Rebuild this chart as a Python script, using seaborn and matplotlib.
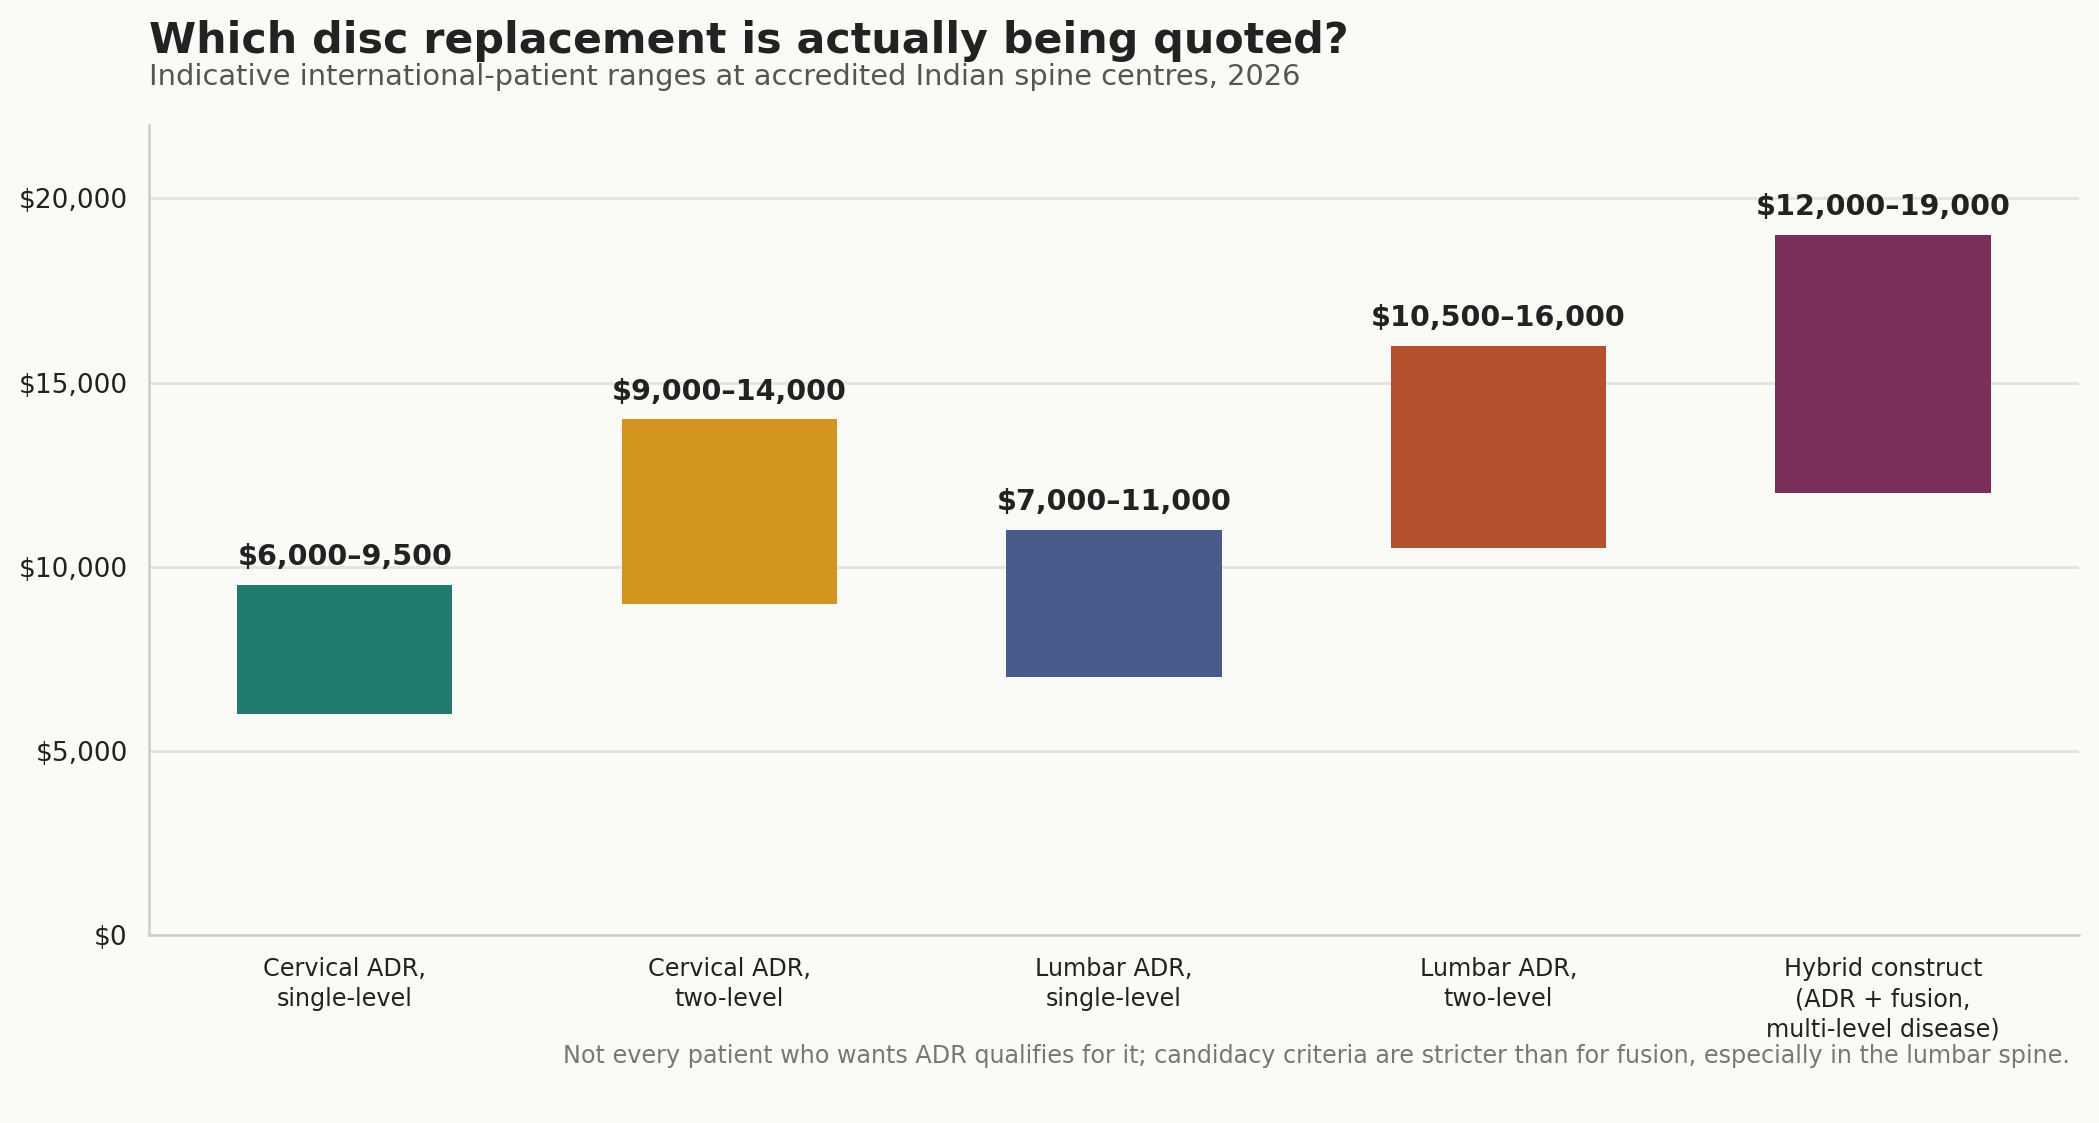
import matplotlib
matplotlib.use("Agg")
import matplotlib.pyplot as plt
import seaborn as sns
import pandas as pd
from matplotlib.ticker import FuncFormatter

categories = ["Cervical ADR,\nsingle-level", "Cervical ADR,\ntwo-level", "Lumbar ADR,\nsingle-level",
              "Lumbar ADR,\ntwo-level", "Hybrid construct\n(ADR + fusion,\nmulti-level disease)"]
low = [6000, 9000, 7000, 10500, 12000]
high = [9500, 14000, 11000, 16000, 19000]
labels = ["$6,000–9,500", "$9,000–14,000", "$7,000–11,000", "$10,500–16,000", "$12,000–19,000"]
colors = ["#1e7b6e", "#d3941d", "#4a5a8a", "#b5512f", "#7a2e58"]
yticks = [0, 5000, 10000, 15000, 20000]

title = "Which disc replacement is actually being quoted?"
subtitle = "Indicative international-patient ranges at accredited Indian spine centres, 2026"
footnote = ("Not every patient who wants ADR qualifies for it; candidacy criteria are stricter "
            "than for fusion, especially in the lumbar spine.")

BG = "#fafaf6"
sns.set_theme(style="white")
plt.rcParams["font.family"] = ["DejaVu Sans"]

df = pd.DataFrame({"cat": categories, "low": low, "high": high})
df["span"] = df["high"] - df["low"]

fig = plt.figure(figsize=(10.495, 5.615), dpi=200, facecolor=BG)
ax = fig.add_axes([0.0708, 0.167, 0.9197, 0.722])
ax.set_facecolor(BG)

sns.barplot(data=df, x="cat", y="span", order=categories, bottom=df["low"].values,
            width=0.56, color=colors[0], ax=ax, zorder=3, linewidth=0, saturation=1)
for patch, c in zip(ax.patches, colors):
    patch.set_facecolor(c)

for i, (h, lab) in enumerate(zip(high, labels)):
    ax.annotate(lab, xy=(i, h), xytext=(0, 5), textcoords="offset points",
                ha="center", va="bottom", fontsize=10.3, fontweight="bold", color="#222222")

ax.set_ylim(0, 22000)
ax.set_xlim(-0.51, 4.51)
ax.set_yticks(yticks)
ax.yaxis.set_major_formatter(FuncFormatter(lambda v, p: f"${v:,.0f}"))
ax.grid(axis="y", color="#e4e4dc", linewidth=1.0, zorder=0)
ax.set_axisbelow(True)
ax.set_xlabel("")
ax.set_ylabel("")
for s in ["top", "right"]:
    ax.spines[s].set_visible(False)
for s in ["left", "bottom"]:
    ax.spines[s].set_color("#cfcfc8")
    ax.spines[s].set_linewidth(0.9)
ax.tick_params(axis="both", colors="#222222", length=4, width=0.8)
ax.tick_params(axis="y", labelsize=9.5)
ax.tick_params(axis="x", labelsize=8.6, pad=3.6)
for t in ax.get_xticklabels():
    t.set_linespacing(1.35)

fig.text(0.0708, 0.953, title, fontsize=15.4, fontweight="bold", color="#222222", ha="left", va="baseline")
fig.text(0.0708, 0.924, subtitle, fontsize=10.4, color="#555555", ha="left", va="baseline")
fig.text(0.986, 0.053, footnote, fontsize=8.62, color="#777777", ha="right", va="baseline")

fig.savefig("out.png", dpi=200, facecolor=BG)
